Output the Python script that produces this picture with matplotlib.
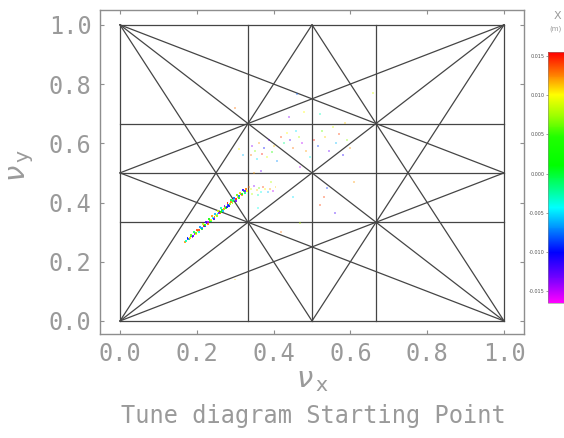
import matplotlib
matplotlib.use("Agg")
import matplotlib.pyplot as plt
from matplotlib.colors import LinearSegmentedColormap

# ---------------- data ----------------
# resonance lines a*Qx + b*Qy = p  (order <= 3)
res_a = [1, 1, 0, 0, 2, 0, 1, 1, 3, 3, 0, 0, 2, 2, 2, 2, 1, 1, 1, 1]
res_b = [0, 0, 1, 1, 0, 2, 1, -1, 0, 0, 3, 3, 1, 1, -1, -1, 2, 2, -2, -2]
res_p = [0, 1, 0, 1, 1, 1, 1, 0, 1, 2, 1, 2, 1, 2, 0, 1, 1, 2, 0, -1]

# main elongated band of particles
band_qx = [0.170, 0.178, 0.186, 0.194, 0.202, 0.210, 0.218, 0.226, 0.234, 0.242,
           0.250, 0.258, 0.266, 0.274, 0.282, 0.290, 0.298, 0.306, 0.314, 0.322,
           0.176, 0.184, 0.192, 0.200, 0.208, 0.216, 0.224, 0.232, 0.240, 0.248,
           0.256, 0.264, 0.272, 0.280, 0.288, 0.296, 0.304, 0.312, 0.320, 0.328,
           0.181, 0.189, 0.197, 0.205, 0.213, 0.221, 0.229, 0.237, 0.245, 0.253,
           0.261, 0.269, 0.277, 0.285, 0.293, 0.301, 0.309, 0.317, 0.325, 0.330,
           0.173, 0.182, 0.190, 0.198, 0.206, 0.214, 0.222, 0.230, 0.238, 0.246,
           0.254, 0.262, 0.270, 0.278, 0.286, 0.294, 0.302, 0.310, 0.318, 0.326]
band_qy = [0.268, 0.277, 0.285, 0.295, 0.303, 0.312, 0.321, 0.330, 0.339, 0.348,
           0.357, 0.366, 0.375, 0.384, 0.393, 0.401, 0.410, 0.419, 0.428, 0.437,
           0.280, 0.290, 0.299, 0.308, 0.317, 0.326, 0.335, 0.344, 0.353, 0.362,
           0.371, 0.380, 0.389, 0.398, 0.407, 0.415, 0.424, 0.433, 0.443, 0.447,
           0.276, 0.284, 0.293, 0.301, 0.310, 0.319, 0.328, 0.337, 0.345, 0.354,
           0.363, 0.372, 0.381, 0.389, 0.398, 0.406, 0.415, 0.424, 0.432, 0.438,
           0.269, 0.279, 0.288, 0.297, 0.306, 0.315, 0.324, 0.333, 0.342, 0.351,
           0.360, 0.369, 0.377, 0.386, 0.396, 0.404, 0.413, 0.422, 0.430, 0.440]
band_x = [0.012, -0.008, 0.003, -0.014, 0.009, -0.002, 0.015, -0.011, 0.005, -0.005,
          0.010, -0.013, 0.001, 0.007, -0.009, 0.013, -0.004, 0.011, -0.015, 0.004,
          -0.010, 0.006, -0.001, 0.014, -0.007, 0.008, -0.012, 0.002, 0.012, -0.006,
          0.009, -0.003, -0.014, 0.015, 0.000, -0.008, 0.006, 0.011, -0.011, 0.013,
          0.004, -0.015, 0.010, -0.004, 0.002, -0.009, 0.013, -0.001, -0.012, 0.007,
          0.014, -0.006, 0.003, -0.010, 0.008, -0.013, 0.001, 0.012, -0.002, 0.010,
          -0.003, 0.011, -0.012, 0.006, 0.014, -0.007, 0.002, -0.015, 0.009, 0.013,
          -0.005, 0.004, 0.012, -0.010, 0.007, -0.001, 0.015, -0.008, 0.003, -0.013]

# sparse particles scattered in the tune space
cloud_qx = [0.335, 0.342, 0.350, 0.356, 0.362, 0.368, 0.372, 0.378, 0.385, 0.391,
            0.398, 0.345, 0.360, 0.405, 0.340, 0.345, 0.352, 0.358, 0.363, 0.370,
            0.376, 0.382, 0.388, 0.395, 0.402, 0.410, 0.420, 0.428, 0.435, 0.442,
            0.450, 0.458, 0.465, 0.475, 0.485, 0.495, 0.505, 0.515, 0.525, 0.535,
            0.545, 0.555, 0.562, 0.570, 0.580, 0.590, 0.600, 0.520, 0.480, 0.440,
            0.300, 0.460, 0.585, 0.450, 0.520, 0.560, 0.470, 0.420, 0.320, 0.310,
            0.470, 0.610, 0.660, 0.360, 0.300, 0.540, 0.530, 0.348, 0.366, 0.392]
cloud_qy = [0.452, 0.447, 0.455, 0.441, 0.449, 0.437, 0.452, 0.444, 0.435, 0.447,
            0.440, 0.430, 0.425, 0.452, 0.560, 0.590, 0.575, 0.548, 0.600, 0.565,
            0.585, 0.555, 0.610, 0.570, 0.592, 0.540, 0.620, 0.600, 0.635, 0.610,
            0.585, 0.640, 0.620, 0.600, 0.575, 0.555, 0.610, 0.590, 0.640, 0.620,
            0.575, 0.655, 0.600, 0.630, 0.560, 0.610, 0.585, 0.700, 0.705, 0.690,
            0.720, 0.765, 0.670, 0.420, 0.390, 0.365, 0.330, 0.300, 0.560, 0.580,
            0.520, 0.470, 0.770, 0.380, 0.140, 0.450, 0.420, 0.500, 0.505, 0.470]
cloud_x = [0.013, 0.009, -0.014, 0.011, 0.006, -0.004, 0.014, 0.010, -0.006, 0.012,
           -0.015, 0.008, -0.003, 0.011, 0.013, -0.014, 0.007, -0.005, 0.012, 0.015,
           -0.010, 0.009, -0.013, 0.004, 0.011, -0.007, 0.014, -0.002, 0.010, -0.012,
           0.013, -0.005, 0.008, -0.015, 0.012, -0.004, 0.015, -0.009, 0.006, 0.011,
           -0.013, 0.009, -0.006, 0.014, -0.011, 0.007, 0.012, -0.003, 0.010, -0.014,
           0.013, -0.008, 0.011, -0.005, 0.014, -0.012, 0.008, 0.013, -0.006, 0.010,
           -0.015, 0.012, 0.009, -0.004, 0.011, -0.009, 0.014, 0.012, -0.013, 0.008]

x_ticks = [0.0, 0.2, 0.4, 0.6, 0.8, 1.0]
y_ticks = [0.0, 0.2, 0.4, 0.6, 0.8, 1.0]
cbar_ticks = [-0.015, -0.010, -0.005, 0.000, 0.005, 0.010, 0.015]

# ---------------- style ----------------
GRAY = "#8e8e8e"
TXT = "#9a9a9a"
LINE = "#454545"
cmap = LinearSegmentedColormap.from_list("idl_rainbow", [
    (0.00, "#ff00ff"), (0.08, "#8a00ff"), (0.20, "#0000ff"), (0.30, "#0090ff"),
    (0.38, "#00ffff"), (0.46, "#00ff80"), (0.55, "#00ff00"), (0.66, "#20ff00"),
    (0.75, "#a0ff00"), (0.83, "#ffff00"), (0.90, "#ff9000"), (1.00, "#ff0000")])

fig = plt.figure(figsize=(5.64, 4.38), dpi=100)
ax = fig.add_axes([100/564, 1-334/438, 424/564, 324/438])

# resonance lines clipped to the unit square
for a, b, p in zip(res_a, res_b, res_p):
    pts = []
    if b != 0:
        for xx in (0.0, 1.0):
            yy = (p - a*xx) / b
            if -1e-9 <= yy <= 1 + 1e-9:
                pts.append((xx, yy))
    if a != 0:
        for yy in (0.0, 1.0):
            xx = (p - b*yy) / a
            if -1e-9 <= xx <= 1 + 1e-9:
                pts.append((xx, yy))
    pts = sorted(set((round(u, 9), round(v, 9)) for u, v in pts))
    (x0, y0), (x1, y1) = pts[0], pts[-1]
    ax.plot([x0, x1], [y0, y1], color=LINE, lw=0.9, zorder=2)

vmin, vmax = -0.0165, 0.0155
ax.scatter(cloud_qx, cloud_qy, c=cloud_x, cmap=cmap, vmin=vmin, vmax=vmax,
           s=2.0, marker="s", linewidths=0, alpha=0.35, zorder=3)
sc = ax.scatter(band_qx, band_qy, c=band_x, cmap=cmap, vmin=vmin, vmax=vmax,
                s=1.8, marker="s", linewidths=0, alpha=0.85, zorder=3)

ax.set_xlim(-0.052, 1.052)
ax.set_ylim(-0.044, 1.05)
ax.set_xticks(x_ticks)
ax.set_yticks(y_ticks)
ax.set_xticklabels([f"{t:.1f}" for t in x_ticks])
ax.set_yticklabels([f"{t:.1f}" for t in y_ticks])
ax.tick_params(direction="in", length=3, width=0.8, color=GRAY,
               top=True, right=True, labelcolor=TXT, labelsize=17, pad=6)
for lab in ax.get_xticklabels() + ax.get_yticklabels():
    lab.set_family("DejaVu Sans Mono")
for sp in ax.spines.values():
    sp.set_color(GRAY)
    sp.set_linewidth(1.0)

plt.rcParams["mathtext.fontset"] = "dejavusans"
fig.text(312/564, 1-380/438, r"$\nu_{\,\mathrm{x}}$", ha="center", va="center",
         color=TXT, fontsize=21)
fig.text(22/564, 1-165/438, r"$\nu_{\,\mathrm{y}}$", ha="center", va="center",
         color=TXT, fontsize=21, rotation=90)
fig.text(313/564, 1-416/438, "Tune diagram Starting Point", ha="center", va="center",
         color=TXT, fontsize=17, family="DejaVu Sans Mono")

# colorbar
cax = fig.add_axes([548/564, 1-303/438, 16/564, 251/438])
cb = fig.colorbar(sc, cax=cax, ticks=cbar_ticks)
cb.solids.set_alpha(1)
cax.yaxis.set_ticks_position("left")
cax.yaxis.set_label_position("left")
cax.set_yticklabels([f"{t:.3f}" for t in cbar_ticks])
cax.tick_params(labelsize=3.5, length=1.5, width=0.4, pad=1, colors="#555555")
cb.outline.set_linewidth(0.4)
cb.outline.set_edgecolor("#888888")
fig.text(557/564, 1-16/438, "X", ha="center", va="center", color=TXT, fontsize=8)
fig.text(556/564, 1-29/438, "(m)", ha="center", va="center", color=TXT, fontsize=5)

fig.savefig("out.png", dpi=100)
